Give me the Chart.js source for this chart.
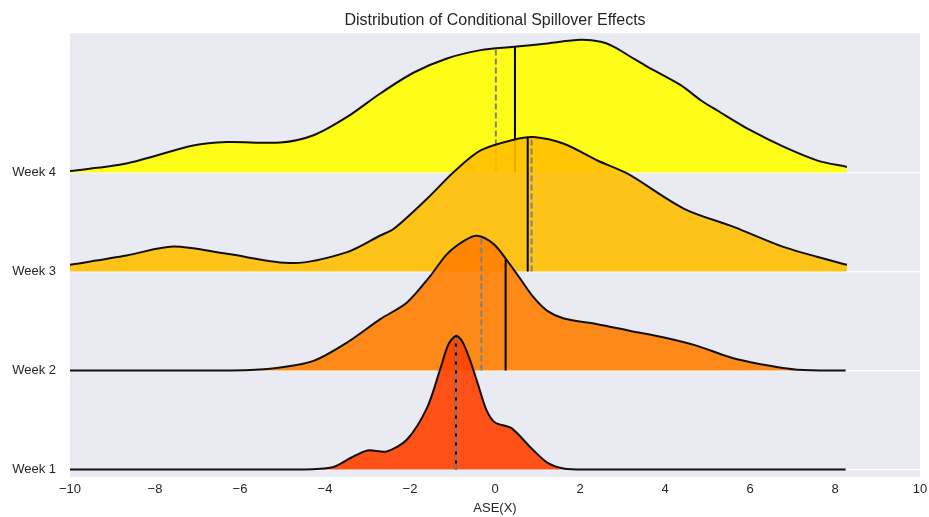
<!DOCTYPE html>
<html>
<head>
<meta charset="utf-8">
<script src="https://cdn.jsdelivr.net/npm/chart.js@4.4.1/dist/chart.umd.min.js"></script>
<style>
  body { margin: 0; background: #ffffff; }
</style>
</head>
<body>
<canvas id="myChart" width="929" height="517"></canvas>
<script>
const weeks = ['Week 1', 'Week 2', 'Week 3', 'Week 4'];
const rowPos = [0, 1, 2, 3];

// density curves, x values and heights (in row units above each baseline)
const week1X = [-10, -4.6, -4.2, -3.8, -3.4, -3.0, -2.55, -2.07, -1.6, -1.28, -1.1, -0.92, -0.78, -0.6, -0.4, -0.2, 0.0, 0.38, 0.85, 1.24, 1.64, 2.2, 8.25];
const week1H = [0, 0, 0.005, 0.025, 0.116, 0.192, 0.182, 0.303, 0.622, 1.026, 1.26, 1.35, 1.3, 1.12, 0.86, 0.6, 0.475, 0.42, 0.217, 0.066, 0.008, 0, 0];

const week2X = [-10, -6.5, -5.76, -5.05, -4.27, -3.48, -2.70, -2.07, -1.52, -1.13, -0.73, -0.42, -0.03, 0.29, 0.60, 0.91, 1.23, 1.62, 2.41, 3.19, 3.98, 4.76, 5.55, 6.25, 7.13, 8.25];
const week2H = [0, 0, 0.005, 0.03, 0.097, 0.283, 0.519, 0.688, 0.957, 1.176, 1.31, 1.361, 1.277, 1.108, 0.923, 0.738, 0.603, 0.526, 0.468, 0.40, 0.334, 0.249, 0.131, 0.064, 0.008, 0];

const week3X = [-10, -8.67, -7.57, -6.31, -4.74, -3.48, -2.70, -2.38, -1.6, -0.97, -0.34, 0.44, 0.91, 1.62, 2.41, 3.12, 4.45, 5.63, 6.8, 8.28];
const week3H = [0.068, 0.162, 0.253, 0.179, 0.085, 0.196, 0.364, 0.432, 0.735, 1.005, 1.223, 1.332, 1.359, 1.291, 1.122, 0.988, 0.634, 0.449, 0.247, 0.068];

const week4X = [-10, -8.67, -7.1, -6.31, -5.05, -4.27, -3.48, -2.70, -1.91, -1.13, -0.34, 0.44, 1.23, 2.01, 2.49, 2.80, 3.19, 3.59, 4.37, 4.84, 5.23, 6.02, 6.8, 7.59, 8.28];
const week4H = [0.016, 0.091, 0.273, 0.309, 0.303, 0.377, 0.562, 0.799, 1.011, 1.153, 1.237, 1.27, 1.304, 1.341, 1.321, 1.27, 1.17, 1.068, 0.883, 0.731, 0.627, 0.425, 0.259, 0.121, 0.057];

// mean (solid) and median (dashed) markers
const meanX = [-0.92, 0.25, 0.77, 0.47];
const meanTop = [1.35, 1.118, 1.352, 1.275];
const medianX = [-0.92, -0.32, 0.86, 0.02];
const medianTop = [1.35, 1.355, 1.355, 1.254];

const curvesX = [week1X, week2X, week3X, week4X];
const curvesH = [week1H, week2H, week3H, week4H];
const fillColors = [
  'rgba(255, 64, 0, 0.9)',
  'rgba(255, 128, 0, 0.9)',
  'rgba(255, 191, 0, 0.9)',
  'rgba(255, 255, 0, 0.9)',
];

const textColor = '#262626';
Chart.defaults.font.family = '"Liberation Sans", Arial, sans-serif';

// earlier datasets are drawn on top, so Week 1 goes first
const datasets = [];
weeks.forEach((w, i) => {
  const base = rowPos[i];
  datasets.push({
    label: w + ' median',
    data: [{x: medianX[i], y: base}, {x: medianX[i], y: base + medianTop[i]}],
    borderColor: '#808080',
    borderWidth: 2,
    borderDash: [6, 3],
    pointRadius: 0,
    fill: false,
  });
  datasets.push({
    label: w + ' mean',
    data: [{x: meanX[i], y: base}, {x: meanX[i], y: base + meanTop[i]}],
    borderColor: '#000000',
    borderWidth: 2,
    pointRadius: 0,
    fill: false,
  });
  datasets.push({
    label: w,
    data: curvesX[i].map((x, j) => ({x: x, y: base + curvesH[i][j]})),
    borderColor: '#111111',
    borderWidth: 2,
    backgroundColor: fillColors[i],
    fill: {value: base},
    pointRadius: 0,
    tension: 0.3,
  });
});

const plotBg = {
  id: 'plotBg',
  beforeDraw(chart) {
    const {ctx, chartArea: a} = chart;
    ctx.save();
    ctx.fillStyle = '#eaeaf2';
    ctx.fillRect(a.left, a.top, a.right - a.left, a.bottom - a.top);
    ctx.restore();
  }
};

const config = {
  type: 'line',
  data: {datasets: datasets},
  options: {
    responsive: false,
    animation: false,
    layout: {padding: {right: 9}},
    plugins: {
      legend: {display: false},
      tooltip: {enabled: false},
      title: {
        display: true,
        text: 'Distribution of Conditional Spillover Effects',
        fullSize: false,
        color: textColor,
        font: {size: 16, weight: 'normal'},
        padding: {top: 11, bottom: 3},
      },
    },
    scales: {
      x: {
        type: 'linear',
        min: -10,
        max: 10,
        ticks: {
          stepSize: 2,
          padding: 5,
          color: textColor,
          font: {size: 13},
          callback: v => String(v).replace('-', '\u2212'),
        },
        grid: {display: false, drawTicks: false},
        border: {display: false},
        title: {
          display: true,
          text: 'ASE(X)',
          color: textColor,
          font: {size: 13},
          padding: {top: 0, bottom: 1},
        },
        afterFit: s => { s.height = 40; s.paddingLeft = 0; s.paddingRight = 0; },
      },
      y: {
        min: -0.076,
        max: 4.408,
        afterBuildTicks: s => { s.ticks = rowPos.map(v => ({value: v})); },
        ticks: {
          padding: 14,
          color: textColor,
          font: {size: 13},
          callback: v => weeks[rowPos.indexOf(v)],
        },
        grid: {color: '#ffffff', lineWidth: 1.25, drawTicks: false},
        border: {display: false},
        afterFit: s => { s.width = 70; },
      },
    },
  },
  plugins: [plotBg],
};

const myChart = new Chart(document.getElementById('myChart'), config);
</script>
</body>
</html>
